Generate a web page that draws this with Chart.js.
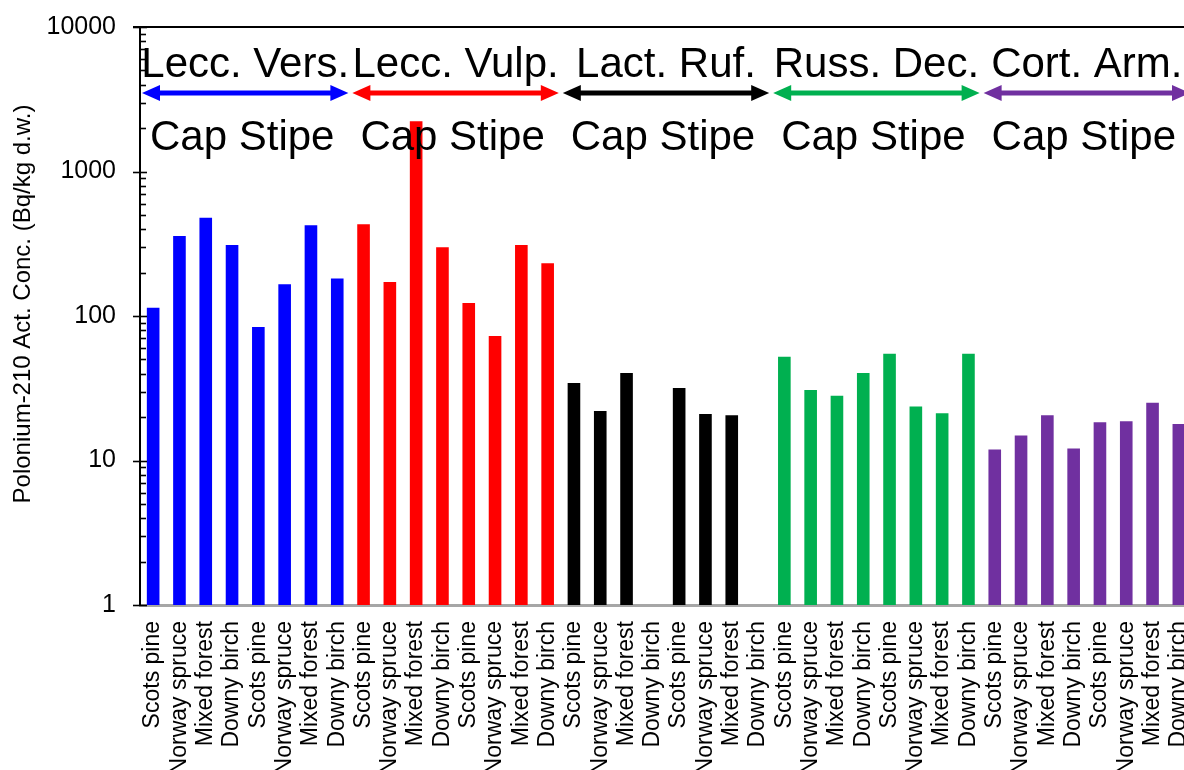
<!DOCTYPE html>
<html>
<head>
<meta charset="utf-8">
<script src="https://cdn.jsdelivr.net/npm/chart.js@4/dist/chart.umd.min.js"></script>
<style>
  html, body { margin: 0; padding: 0; overflow: hidden; background: #fff; width: 1184px; height: 770px; }
  #wrap { position: absolute; left: 0; top: 0; width: 1200px; height: 770px; }
</style>
</head>
<body>
<div id="wrap"><canvas id="c" width="1200" height="770"></canvas></div>
<script>
// Sampling sites and mushroom parts
const habitats = ['Scots pine', 'Norway spruce', 'Mixed forest', 'Downy birch'];
const parts = ['Cap', 'Stipe'];
const species = ['Lecc. Vers.', 'Lecc. Vulp.', 'Lact. Ruf.', 'Russ. Dec.', 'Cort. Arm.'];
const speciesColors = ['#0000FF', '#FF0000', '#000000', '#00B050', '#7030A0'];

// Po-210 activity concentration, Bq/kg d.w. : cap (4 sites) then stipe (4 sites)
const leccVers = [114, 358, 479, 310, 84, 166, 424, 182];
const leccVulp = [431, 172, 2230, 299, 123, 72.7, 310, 232];
const lactRuf  = [34.4, 22.0, 40.3, null, 31.8, 21.0, 20.6, null];
const russDec  = [52.3, 30.8, 28.1, 40.3, 54.8, 23.6, 21.2, 54.8];
const cortArm  = [11.9, 14.9, 20.6, 12.1, 18.4, 18.7, 25.1, 17.9];

const yTickValues = [1, 10, 100, 1000, 10000];
const yTitle = 'Polonium-210 Act. Conc. (Bq/kg d.w.)';

const FONT = "'Liberation Sans', Arial, Helvetica, sans-serif";

const seriesBySpecies = [leccVers, leccVulp, lactRuf, russDec, cortArm];
const categories = [];
const values = [];
const barColors = [];
seriesBySpecies.forEach((arr, s) => {
  parts.forEach((p, pi) => {
    habitats.forEach((h, hi) => {
      categories.push(h);
      values.push(arr[pi * habitats.length + hi]);
      barColors.push(speciesColors[s]);
    });
  });
});
const perGroup = parts.length * habitats.length;

// Axis decorations, species brackets and the rotated axis title
const decor = {
  id: 'decor',
  afterDatasetsDraw(chart) {
    const { ctx, chartArea: a, scales: { x, y } } = chart;
    ctx.save();

    // top frame line
    ctx.strokeStyle = '#000';
    ctx.lineWidth = 2;
    ctx.beginPath();
    ctx.moveTo(a.left - 7, a.top);
    ctx.lineTo(a.right, a.top);
    ctx.stroke();

    // log ticks: major crossing the axis, minor inside
    ctx.lineWidth = 1.6;
    for (let d = 0; d < yTickValues.length; d++) {
      const base = yTickValues[d];
      const py = Math.round(y.getPixelForValue(base)) + 0.5;
      ctx.beginPath();
      ctx.moveTo(a.left - 7, py);
      ctx.lineTo(a.left + 7, py);
      ctx.stroke();
      if (d < yTickValues.length - 1) {
        for (let m = 2; m <= 9; m++) {
          const my = Math.round(y.getPixelForValue(base * m)) + 0.5;
          ctx.beginPath();
          ctx.moveTo(a.left, my);
          ctx.lineTo(a.left + 6, my);
          ctx.stroke();
        }
      }
    }

    // species brackets
    const step = x.getPixelForValue(1) - x.getPixelForValue(0);
    species.forEach((name, g) => {
      const gl = x.getPixelForValue(g * perGroup) - step / 2;
      const gr = x.getPixelForValue(g * perGroup + perGroup - 1) + step / 2;
      const cx = (gl + gr) / 2;
      const col = speciesColors[g];

      ctx.fillStyle = '#000';
      ctx.font = `42px ${FONT}`;
      ctx.textAlign = 'center';
      ctx.textBaseline = 'alphabetic';
      ctx.fillText(name, cx, a.top + 50);

      const ay = a.top + 66;
      const x1 = gl + 2, x2 = gr - 2;
      const head = 18, half = 8;
      ctx.strokeStyle = col;
      ctx.fillStyle = col;
      ctx.lineWidth = 5;
      ctx.beginPath();
      ctx.moveTo(x1 + head - 2, ay);
      ctx.lineTo(x2 - head + 2, ay);
      ctx.stroke();
      ctx.beginPath();
      ctx.moveTo(x1, ay);
      ctx.lineTo(x1 + head, ay - half);
      ctx.lineTo(x1 + head, ay + half);
      ctx.closePath();
      ctx.fill();
      ctx.beginPath();
      ctx.moveTo(x2, ay);
      ctx.lineTo(x2 - head, ay - half);
      ctx.lineTo(x2 - head, ay + half);
      ctx.closePath();
      ctx.fill();

      ctx.fillStyle = '#000';
      ctx.font = `42px ${FONT}`;
      ctx.fillText(parts.join(' '), cx - 3, a.top + 123);
    });

    // y-axis title
    ctx.save();
    ctx.translate(23, 304);
    ctx.rotate(-Math.PI / 2);
    ctx.fillStyle = '#000';
    ctx.font = `24px ${FONT}`;
    ctx.textAlign = 'center';
    ctx.textBaseline = 'middle';
    ctx.fillText(yTitle, 0, 0);
    ctx.restore();

    ctx.restore();
  }
};

new Chart(document.getElementById('c').getContext('2d'), {
  type: 'bar',
  data: {
    labels: categories,
    datasets: [{
      data: values,
      backgroundColor: barColors,
      borderWidth: 0,
      barPercentage: 0.48,
      categoryPercentage: 1
    }]
  },
  options: {
    responsive: false,
    animation: false,
    layout: { padding: { top: 27, right: 8, left: 0, bottom: 0 } },
    plugins: { legend: { display: false }, tooltip: { enabled: false } },
    scales: {
      x: {
        grid: { display: false, drawTicks: false },
        border: { display: true, color: '#A6A6A6', width: 3 },
        ticks: {
          color: '#000',
          font: { family: FONT, size: 23 },
          minRotation: 90,
          maxRotation: 90,
          autoSkip: false,
          padding: 16
        },
        afterFit(s) { s.height = 165; s.paddingLeft = 0; s.paddingRight = 0; }
      },
      y: {
        type: 'logarithmic',
        min: 1,
        max: 10000,
        grid: { display: false, drawTicks: false },
        border: { display: true, color: '#000', width: 2 },
        ticks: {
          autoSkip: false,
          padding: 24,
          color: '#000',
          font: { family: FONT, size: 25 },
          callback(v) { return yTickValues.includes(v) ? String(v) : ''; }
        },
        afterFit(s) { s.width = 140; s.paddingTop = 0; s.paddingBottom = 0; }
      }
    }
  },
  plugins: [decor]
});
</script>
</body>
</html>
